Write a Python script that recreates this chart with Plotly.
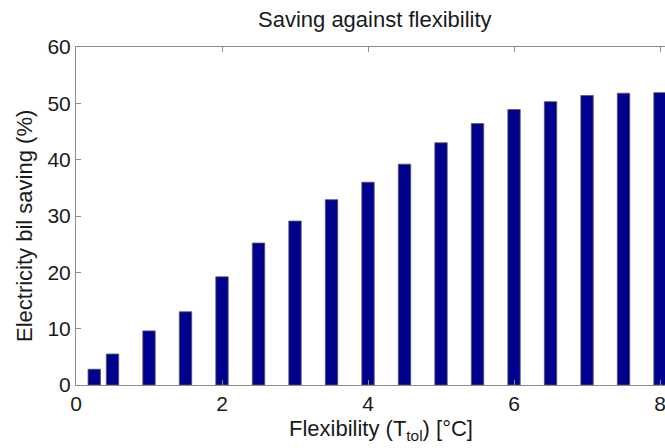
import plotly.graph_objects as go

flexibility = [0.25, 0.5, 1, 1.5, 2, 2.5, 3, 3.5, 4, 4.5, 5, 5.5, 6, 6.5, 7, 7.5, 8]
saving = [2.8, 5.5, 9.6, 13.0, 19.2, 25.2, 29.1, 32.9, 36.0, 39.2, 43.0, 46.4, 48.9, 50.3, 51.4, 51.8, 51.9]
x_ticks = [0, 2, 4, 6, 8]
y_ticks = [0, 10, 20, 30, 40, 50, 60]

font = "Liberation Sans, Arial, Helvetica, sans-serif"
axis_col = "#8c8c8c"

L, T, W, H = 76, 47, 589, 338

fig = go.Figure(go.Bar(
    x=flexibility, y=saving, width=0.17,
    marker=dict(color="rgb(0,0,143)", line=dict(color="rgba(90,90,90,0.8)", width=1)),
))

fig.update_layout(
    width=665, height=448,
    margin=dict(l=L, r=0, t=T, b=448 - T - H),
    paper_bgcolor="white", plot_bgcolor="white",
    showlegend=False,
    font=dict(family=font, size=22, color="#1a1a1a"),
    xaxis=dict(range=[0, 8.068], tickvals=x_ticks, ticks="inside", ticklen=5,
               tickcolor=axis_col, showline=True, linecolor=axis_col, linewidth=1,
               mirror="ticks", showgrid=False, zeroline=False,
               ticklabeloverflow="allow", tickfont=dict(size=21)),
    yaxis=dict(range=[0, 60], tickvals=y_ticks, ticks="inside", ticklen=5,
               tickcolor=axis_col, showline=True, linecolor=axis_col, linewidth=1,
               mirror=False, showgrid=False, zeroline=False,
               tickfont=dict(size=21)),
    annotations=[
        dict(text="Saving against flexibility", xref="paper", yref="paper",
             x=(375 - L) / W, y=(T + H - 20) / H, xanchor="center", yanchor="middle",
             showarrow=False, font=dict(size=22)),
        dict(text="Flexibility (T<sub>tol</sub>) [°C]", xref="paper", yref="paper",
             x=(381 - L) / W, y=(T + H - 430) / H, xanchor="center", yanchor="middle",
             showarrow=False, font=dict(size=22)),
        dict(text="Electricity bil saving (%)", xref="paper", yref="paper",
             x=(25 - L) / W, y=(T + H - 226) / H, xanchor="center", yanchor="middle",
             textangle=-90, showarrow=False, font=dict(size=22)),
    ],
)

fig.write_html("out.html", config={"displayModeBar": False},
               post_script="document.body.style.margin='0';document.body.style.overflow='hidden';")
